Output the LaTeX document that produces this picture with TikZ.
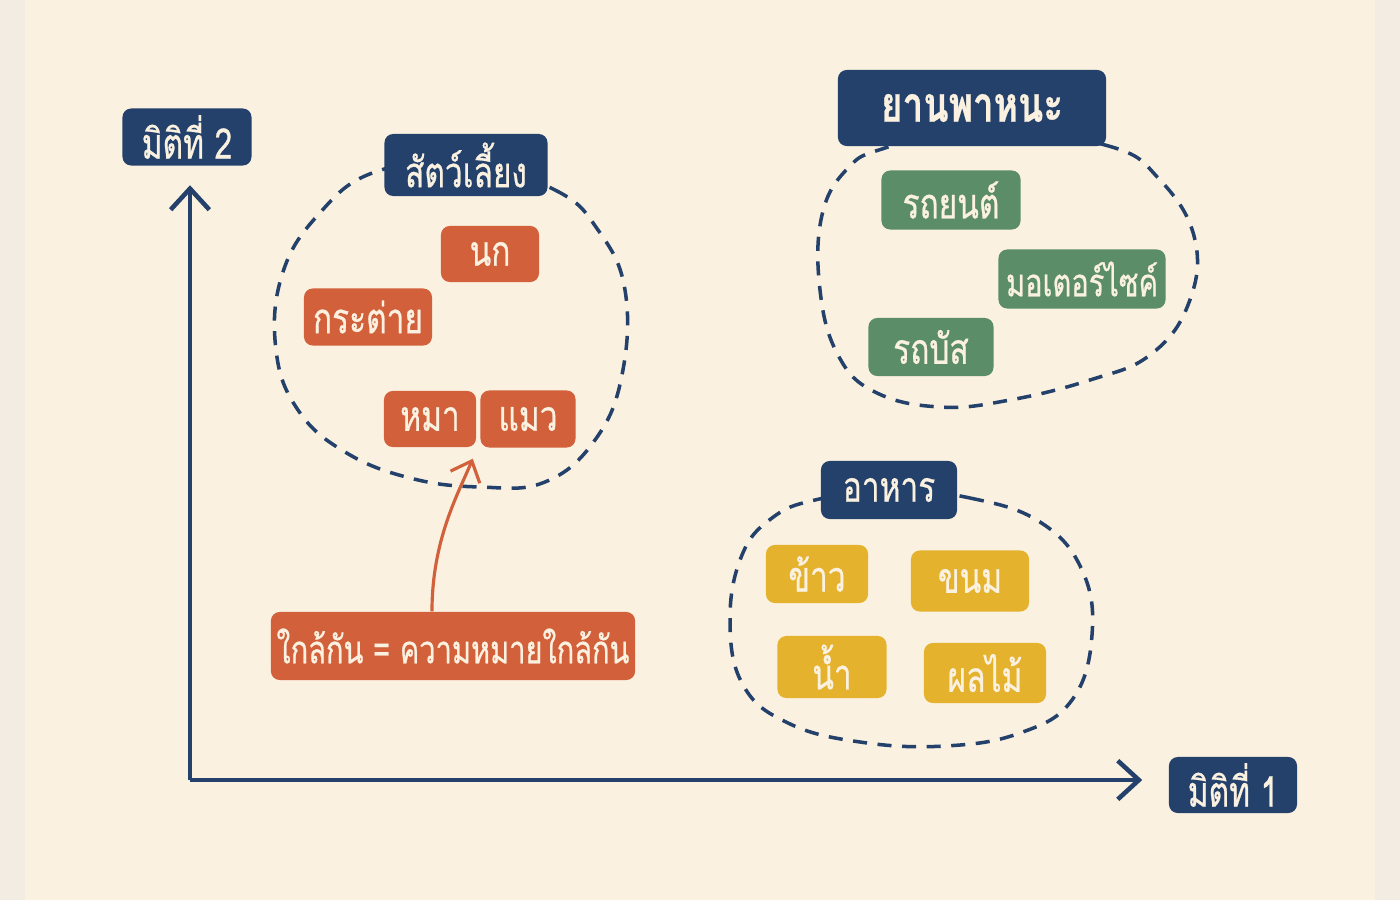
\documentclass[tikz,border=0pt]{standalone}
\usepackage{fontspec}
\newfontfamily\thaifont[Script=Thai, FakeStretch=0.75, FakeBold=0.6]{Loma}
\usetikzlibrary{arrows.meta}
\definecolor{paper}{HTML}{FBF1E1}
\definecolor{rim}{HTML}{F3ECE2}
\definecolor{navy}{HTML}{23416A}
\definecolor{rust}{HTML}{D2613B}
\definecolor{sage}{HTML}{5C8D69}
\definecolor{mustard}{HTML}{E4B22D}
\tikzset{
  tag/.style={rounded corners=2.5pt, text=paper, inner sep=0pt,
    font=\thaifont\fontsize{12}{14}\selectfont},
  head/.style={tag, fill=navy},
  pet/.style={tag, fill=rust},
  car/.style={tag, fill=sage},
  food/.style={tag, fill=mustard},
  group/.style={navy, line width=1pt, dash pattern=on 4pt off 3pt},
  axis/.style={navy, line width=1.3pt, -{Straight Barb[length=6pt,width=11pt]}},
  link/.style={rust, line width=0.9pt, -{Straight Barb[length=5pt,width=9pt]}},
}
\begin{document}
\begin{tikzpicture}[x=0.01cm,y=-0.01cm]
  % Paper
  \fill[rim] (0,0) rectangle (1400,900);
  \fill[paper] (25,0) rectangle (1375,900);
  % Dashed groups
  \draw[group] plot[smooth cycle, tension=0.7] coordinates {(466,163) (555,190) (598,230)
    (625,290) (622,375) (595,440) (545,482) (480,487) (410,478) (345,452) (298,410)
    (276,350) (282,275) (318,215) (375,172)};
  \draw[group] plot[smooth cycle, tension=0.7] coordinates {(970,128) (1105,145) (1160,180)
    (1195,240) (1188,305) (1150,355) (1090,380) (1010,400) (940,407) (875,392) (838,355)
    (820,290) (822,215) (848,168) (885,148)};
  \draw[group] plot[smooth cycle, tension=0.7] coordinates {(890,490) (970,498) (1040,522)
    (1082,570) (1092,635) (1072,700) (1020,733) (945,746) (860,742) (788,723) (743,685)
    (730,620) (742,555) (772,518) (815,500)};
  % Axis labels
  \node[head, minimum width=1.29cm, minimum height=0.57cm] (dim2) at (187,137) {มิติที่ 2};
  \node[head, minimum width=1.28cm, minimum height=0.56cm] (dim1) at (1233,785) {มิติที่ 1};
  % Pets
  \node[head, minimum width=1.63cm, minimum height=0.62cm] (pets) at (466,165) {สัตว์เลี้ยง};
  \node[pet, minimum width=0.98cm, minimum height=0.56cm] (bird) at (490,254) {นก};
  \node[pet, minimum width=1.28cm, minimum height=0.57cm] (rabbit) at (368,317) {กระต่าย};
  \node[pet, minimum width=0.92cm, minimum height=0.56cm] (dog) at (430,419) {หมา};
  \node[pet, minimum width=0.95cm, minimum height=0.57cm] (cat) at (528,419) {แมว};
  % Vehicles
  \node[head, minimum width=2.68cm, minimum height=0.76cm,
    font=\thaifont\bfseries\fontsize{14}{16}\selectfont] (vehicles) at (972,108) {ยานพาหนะ};
  \node[car, minimum width=1.39cm, minimum height=0.59cm] (sedan) at (951,200) {รถยนต์};
  \node[car, minimum width=1.67cm, minimum height=0.59cm,
    font=\thaifont\fontsize{11}{13}\selectfont] (moto) at (1082,279) {มอเตอร์ไซค์};
  \node[car, minimum width=1.25cm, minimum height=0.58cm] (bus) at (931,347) {รถบัส};
  % Food
  \node[head, minimum width=1.36cm, minimum height=0.58cm] (meal) at (889,490) {อาหาร};
  \node[food, minimum width=1.02cm, minimum height=0.58cm] (rice) at (817,574) {ข้าว};
  \node[food, minimum width=1.18cm, minimum height=0.61cm] (snack) at (970,581) {ขนม};
  \node[food, minimum width=1.09cm, minimum height=0.62cm] (water) at (832,667) {น้ำ};
  \node[food, minimum width=1.22cm, minimum height=0.60cm] (fruit) at (985,673) {ผลไม้};
  % Note
  \node[pet, minimum width=3.64cm, minimum height=0.68cm,
    font=\thaifont\fontsize{11}{13}\selectfont] (note) at (453,646) {ใกล้กัน = ความหมายใกล้กัน};
  % Axes
  \coordinate (origin) at (190,780);
  \draw[axis, shorten >=0.19cm] (origin) -- (origin |- dim2.south);
  \draw[axis, shorten >=0.26cm] (origin) -- (origin -| dim1.west);
  % Arrow to dog and cat
  \draw[link] ([xshift=-0.21cm]note.north) .. controls +(0,-72) and +(-14,34) .. ([shift={(-4,11)}]dog.south east);
\end{tikzpicture}
\end{document}
